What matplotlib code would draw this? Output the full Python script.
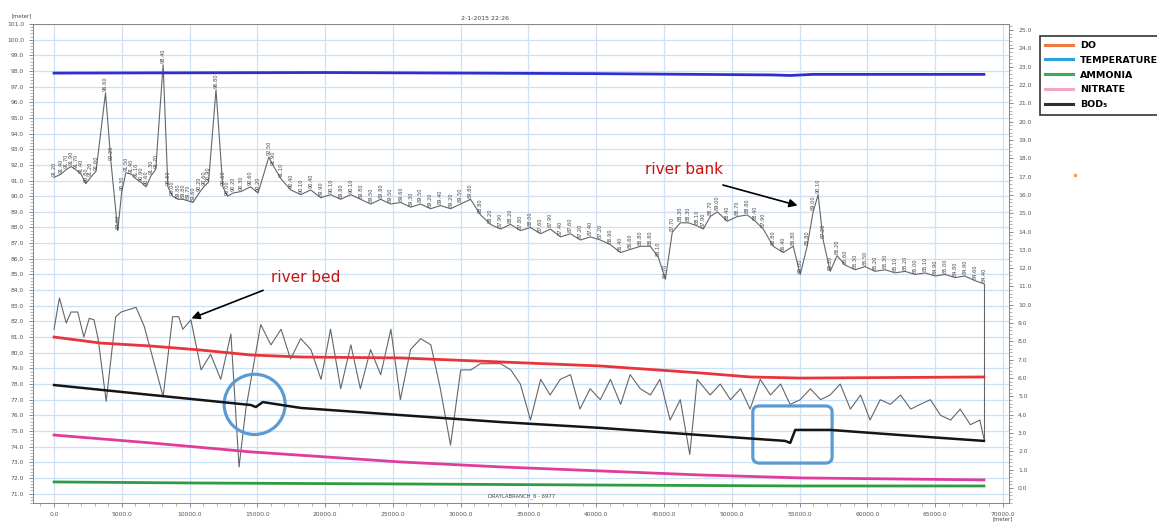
import matplotlib
matplotlib.use("Agg")
import matplotlib.pyplot as plt
from matplotlib.patches import Ellipse, FancyBboxPatch
from matplotlib.lines import Line2D
from matplotlib.ticker import MultipleLocator, FormatStrFormatter

# ---------------- data ----------------
bank_x = [0, 500, 900, 1250, 1600, 2000, 2350, 2700, 3100, 3800, 4200, 4700, 5000, 5300, 5700,
          6050, 6400, 6800, 7150, 7500, 8050, 8400, 8750, 9150, 9500, 9900, 10250, 10700, 11050,
          11400, 11950, 12450, 12800, 13200, 13800, 14500, 15050, 15850, 16200, 16750, 17465,
          18200, 18940, 19675, 20410, 21150, 21890, 22620, 23360, 24100, 24830, 25570, 26310,
          27040, 27780, 28520, 29260, 29990, 30730, 31470, 32200, 32940, 33680, 34410, 35150,
          35890, 36620, 37360, 38100, 38830, 39570, 40310, 41050, 41780, 42520, 43260, 43990,
          44580, 45100, 45610, 46200, 46790, 47460, 47900, 48410, 48930, 49670, 50400, 51140,
          51730, 52320, 53060, 53790, 54530, 55050, 55560, 56000, 56370, 56740, 57260, 57770,
          58360, 59100, 59840, 60570, 61310, 62050, 62780, 63520, 64260, 65000, 65730, 66470,
          67200, 67940, 68600]
bank_elev = [91.2, 91.4, 91.7, 91.9, 91.7, 91.4, 90.8, 91.2, 91.6, 96.6, 92.2, 87.8, 90.3, 91.5, 91.4,
             91.1, 90.9, 90.6, 91.3, 91.7, 98.4, 90.6, 90.0, 89.8, 89.8, 89.7, 89.6, 90.2, 90.6,
             90.9, 96.8, 90.6, 90.0, 90.2, 90.3, 90.6, 90.2, 92.5, 91.9, 91.1, 90.4,
             90.1, 90.4, 89.9, 90.1, 89.8, 90.1, 89.8, 89.5, 89.8, 89.5, 89.6, 89.3,
             89.5, 89.2, 89.4, 89.2, 89.5, 89.8, 88.8, 88.2, 87.9, 88.2, 87.8, 88.0,
             87.6, 87.9, 87.4, 87.6, 87.2, 87.4, 87.2, 86.9, 86.4, 86.6, 86.8, 86.8,
             86.1, 84.7, 87.7, 88.3, 88.3, 88.1, 87.9, 88.7, 89.0, 88.4, 88.7, 88.8,
             88.4, 87.9, 86.8, 86.4, 86.8, 85.0, 86.8, 89.0, 90.1, 87.2, 85.2, 86.2,
             85.6, 85.3, 85.5, 85.2, 85.3, 85.1, 85.2, 85.0, 85.1, 84.9, 85.0, 84.8,
             84.9, 84.6, 84.4]

bed_x = [0, 400, 900, 1250, 1750, 2200, 2600, 2950, 3250, 3850, 4550, 4950, 6050, 6650, 8050,
         8750, 9200, 9500, 10100, 10850, 11550, 12300, 13050, 13650, 14150, 15250, 16000, 16750,
         17450, 18200, 18950, 19700, 20400, 21150, 21900, 22600, 23350, 24100, 24850, 25550,
         26300, 27050, 27800, 28500, 29250, 30000, 30750, 31450, 32200, 32950, 33700, 34400,
         35150, 35900, 36600, 37350, 38100, 38800, 39550, 40300, 41050, 41800, 42500, 43250,
         44000, 44700, 45450, 46200, 46900, 47450, 48400, 49150, 49900, 50650, 51350, 52100,
         52850, 53600, 54300, 55050, 55800, 56550, 57250, 58000, 58750, 59500, 60200, 60950,
         61700, 62450, 63200, 63900, 64650, 65400, 66150, 66850, 67600, 68300, 68600]
bed_elev = [81.5, 83.5, 81.9, 82.6, 82.6, 81.0, 82.2, 82.1, 80.9, 76.9, 82.3, 82.6, 82.9, 81.7, 77.2,
            82.3, 82.3, 81.5, 82.1, 78.9, 79.9, 78.3, 81.2, 72.7, 76.4, 81.8, 80.5, 81.5,
            79.6, 80.9, 80.2, 78.3, 81.5, 77.7, 80.5, 77.7, 80.2, 78.6, 81.5, 77.0,
            80.2, 80.9, 80.5, 77.7, 74.1, 78.9, 78.9, 79.3, 79.3, 79.3, 78.9, 78.0,
            75.7, 78.3, 77.3, 78.3, 78.6, 76.4, 77.7, 77.0, 78.3, 76.7, 78.6, 77.7,
            77.3, 78.3, 75.7, 77.0, 73.5, 78.3, 77.3, 78.0, 77.0, 77.7, 76.4, 78.3,
            77.3, 78.0, 76.7, 77.0, 77.7, 77.0, 77.3, 78.0, 76.4, 77.3, 75.7, 77.0,
            76.7, 77.3, 76.4, 76.7, 77.0, 76.0, 75.7, 76.4, 75.4, 75.7, 74.5]

do_x = [0, 3460, 7150, 10830, 14520, 18200, 25570, 32940, 40310, 47680, 51360, 55050, 68600]
do_val = [8.24, 7.91, 7.75, 7.53, 7.26, 7.15, 7.10, 6.88, 6.66, 6.28, 6.06, 6.00, 6.06]

temp_x = [0, 20000, 40000, 53000, 54300, 56000, 68600]
temp_val = [22.65, 22.68, 22.62, 22.55, 22.52, 22.58, 22.58]

amm_x = [0, 10830, 25570, 40310, 55050, 68600]
amm_val = [0.33, 0.27, 0.22, 0.16, 0.11, 0.11]

nit_x = [0, 7150, 14520, 25570, 32940, 40310, 47680, 55050, 68600]
nit_val = [2.89, 2.46, 1.97, 1.42, 1.15, 0.93, 0.71, 0.55, 0.44]

bod_x = [0, 7150, 14520, 14890, 15400, 18200, 25570, 32940, 40310, 47680, 53940, 54310, 54680,
         57260, 62420, 68600]
bod_val = [5.62, 5.08, 4.53, 4.42, 4.69, 4.37, 3.98, 3.60, 3.28, 2.89, 2.57, 2.46, 3.17,
           3.17, 2.89, 2.57]

legend_labels = ["DO", "TEMPERATURE", "AMMONIA", "NITRATE", "BOD₅"]
legend_colors = ["#f07a3a", "#2aa0dc", "#3cae5a", "#f4a6c8", "#303030"]

title_text = "2-1-2015 22:26"
branch_text = "DRAYLABRANCH_6 - 6977"

# ---------------- figure ----------------
W, H = 1157, 523
fig = plt.figure(figsize=(W / 100, H / 100), dpi=100)
ax = fig.add_axes([33 / W, 1 - 503 / H, (1009 - 33) / W, (503 - 24) / H])
ax2 = ax.twinx()

grid_c = "#cfe0f3"
ax.set_xlim(-1550, 70450)
ax.set_ylim(70.4, 101.0)
ax2.set_ylim(-0.82, 25.33)

ax.xaxis.set_major_locator(MultipleLocator(5000))
ax.xaxis.set_minor_locator(MultipleLocator(1000))
ax.yaxis.set_major_locator(MultipleLocator(1.0))
ax.yaxis.set_minor_locator(MultipleLocator(0.2))
ax2.yaxis.set_major_locator(MultipleLocator(1.0))
ax2.yaxis.set_minor_locator(MultipleLocator(0.2))
ax.xaxis.set_major_formatter(FormatStrFormatter("%.1f"))
ax.yaxis.set_major_formatter(FormatStrFormatter("%.1f"))
ax2.yaxis.set_major_formatter(FormatStrFormatter("%.1f"))
ax.grid(True, which="major", color=grid_c, lw=0.9)
ax.set_axisbelow(True)

tick_kw = dict(labelsize=4.3, labelcolor="#555555", color="#777777", length=3, width=0.6)
ax.tick_params(axis="both", which="major", **tick_kw)
ax.tick_params(axis="both", which="minor", length=2, width=0.4, color="#777777")
ax2.tick_params(axis="y", which="major", **tick_kw)
ax2.tick_params(axis="y", which="minor", length=2, width=0.4, color="#777777")
for a in (ax, ax2):
    for s in a.spines.values():
        s.set_color("#888888")
        s.set_linewidth(0.7)

# elevation profile (left axis)
ax.plot(bank_x, bank_elev, color="#666666", lw=0.8, zorder=3)
ax.plot(bed_x, bed_elev, color="#666666", lw=0.8, zorder=3)
ax.plot([bank_x[-1], bed_x[-1]], [bank_elev[-1], bed_elev[-1]], color="#666666", lw=0.8, zorder=3)
for xv, yv in zip(bank_x, bank_elev):
    ax.text(xv, yv + 0.1, f"{yv:.2f}", rotation=90, fontsize=3.6, color="#444444",
            ha="center", va="bottom", zorder=4)

# water-quality lines (right axis)
ax2.plot(temp_x, temp_val, color="#2f2fd0", lw=2.0, zorder=5)
ax2.plot(do_x, do_val, color="#e8343a", lw=2.0, zorder=5)
ax2.plot(bod_x, bod_val, color="#151515", lw=1.8, zorder=5)
ax2.plot(nit_x, nit_val, color="#e03c9c", lw=2.0, zorder=5)
ax2.plot(amm_x, amm_val, color="#2e9c44", lw=2.0, zorder=5)

# annotations
ax.annotate("", xy=(9950, 82.13), xytext=(15620, 84.05),
            arrowprops=dict(arrowstyle="-|>", color="black", lw=1.2, mutation_scale=12))
ax.text(16000, 84.3, "river bed", color="#cc1111", fontsize=11, ha="left", va="bottom")
ax.annotate("", xy=(55050, 89.36), xytext=(49150, 90.76),
            arrowprops=dict(arrowstyle="-|>", color="black", lw=1.2, mutation_scale=12))
ax.text(43600, 91.2, "river bank", color="#cc1111", fontsize=11, ha="left", va="bottom")

ring_c = "#5b9bd5"
ax.add_patch(Ellipse((14800, 76.7), 4500, 3.85, fill=False, ec=ring_c, lw=2.3, zorder=6))
ax.add_patch(FancyBboxPatch((51550, 72.95), 5850, 3.65, boxstyle="round,pad=0,rounding_size=500",
                            mutation_aspect=0.0008, fill=False, ec=ring_c, lw=2.3, zorder=6))

ax.text(34500, 70.85, branch_text, fontsize=3.8, color="#444444", ha="center", va="center")

# texts around axes
fig.text(485 / W, 1 - 19 / H, title_text, fontsize=4.5, color="#444444", ha="center", va="center")
fig.text(22 / W, 1 - 16 / H, "[meter]", fontsize=3.8, color="#444444", ha="center", va="center")
fig.text(1003 / W, 1 - 519 / H, "[meter]", fontsize=3.8, color="#444444", ha="center", va="center")

# legend
handles = [Line2D([0], [0], color=c, lw=2.2) for c in legend_colors]
leg = fig.legend(handles, legend_labels, loc="upper left", bbox_to_anchor=(1035 / W, 1 - 31 / H),
                 frameon=True, fancybox=False, fontsize=6.8, handlelength=3.0, borderpad=0.55,
                 labelspacing=0.62, handletextpad=0.7)
leg.get_frame().set_edgecolor("black")
leg.get_frame().set_linewidth(1.2)
for t in leg.get_texts():
    t.set_fontweight("bold")

fig.add_artist(Line2D([1075 / W], [1 - 175 / H], marker="o", markersize=1.5, color="#f0a040", lw=0))

fig.savefig("out.png", dpi=100)
